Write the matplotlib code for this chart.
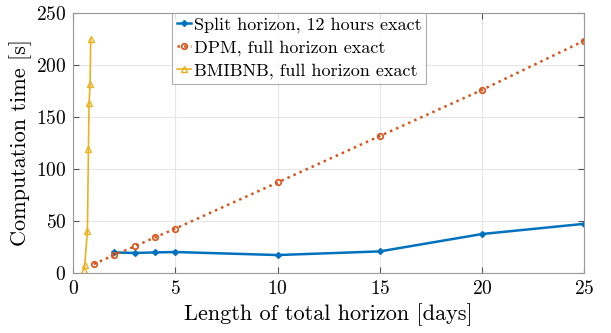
import numpy as np
import matplotlib
matplotlib.use("Agg")
import matplotlib.pyplot as plt

# horizon length in days vs computation time in seconds
split_days = [2, 3, 4, 5, 10, 15, 20, 25]
split_time = [19.5, 19.0, 19.5, 19.9, 17.0, 20.5, 37.2, 47.0]

dpm_days = [1, 2, 3, 4, 5, 10, 15, 20, 25]
dpm_time = [8.3, 17.0, 25.3, 34.0, 42.5, 86.8, 131.4, 175.7, 223.0]

bmibnb_days = [0.52, 0.56, 0.69, 0.74, 0.77, 0.82, 0.85]
bmibnb_time = [2.9, 7.7, 40.0, 119.0, 163.0, 181.0, 225.0]

x_ticks = [0, 5, 10, 15, 20, 25]
y_ticks = [0, 50, 100, 150, 200, 250]

BLUE = "#0072BD"
ORANGE = "#D95319"
YELLOW = "#EDB120"

plt.rcParams["font.family"] = "cmr10"
plt.rcParams["mathtext.fontset"] = "cm"
plt.rcParams["axes.unicode_minus"] = False
plt.rcParams["axes.formatter.use_mathtext"] = True

fig = plt.figure(figsize=(6.11, 3.33), dpi=100)
ax = fig.add_axes([0.12, 0.181, 0.836, 0.781])

ax.plot(split_days, split_time, color=BLUE, linewidth=1.8, marker="D",
        markersize=3, label="Split horizon, 12 hours exact")
ax.plot(dpm_days, dpm_time, color=ORANGE, linewidth=1.8, linestyle=":",
        marker="o", markersize=4, markerfacecolor="none", markeredgewidth=1.2,
        label="DPM, full horizon exact")
ax.plot(bmibnb_days, bmibnb_time, color=YELLOW, linewidth=1.2, marker="^",
        markersize=4.5, markerfacecolor="none", markeredgewidth=1.0,
        label="BMIBNB, full horizon exact")

ax.set_xlim(0, 25)
ax.set_ylim(0, 250)
ax.set_xticks(x_ticks)
ax.set_yticks(y_ticks)
ax.tick_params(direction="in", labelsize=14, length=4, color="#555555",
               top=True, right=True, pad=5)
ax.grid(True, color="#e6e6e6", linewidth=0.8)
ax.set_axisbelow(True)
for spine in ax.spines.values():
    spine.set_color("#999999")
    spine.set_linewidth(0.8)

ax.set_xlabel("Length of total horizon [days]", fontsize=16, labelpad=4)
ax.set_ylabel("Computation time [s]", fontsize=16, labelpad=3)

leg = ax.legend(loc="upper left", bbox_to_anchor=(0.194, 1.0), fontsize=13,
                frameon=True, fancybox=False, handlelength=0.8,
                handletextpad=0.15, borderpad=0.25, labelspacing=0.38,
                borderaxespad=0.0)
leg.get_frame().set_edgecolor("#999999")
leg.get_frame().set_linewidth(0.8)

fig.savefig("out.png", dpi=100)
